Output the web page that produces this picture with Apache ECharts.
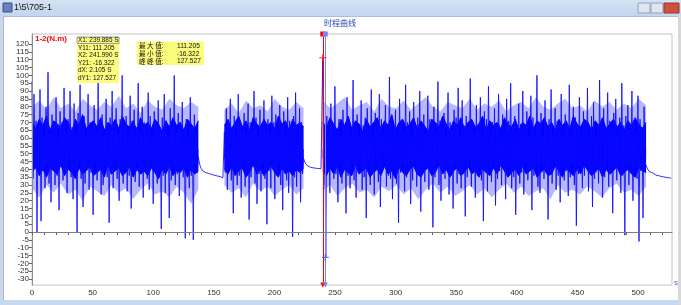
<!DOCTYPE html>
<html><head><meta charset="utf-8">
<script src="https://cdn.jsdelivr.net/npm/echarts@6/dist/echarts.min.js"></script>
<style>html,body{margin:0;padding:0;background:#fff}#c{width:681px;height:305px}</style>
</head><body><div id="c"></div>
<script>
const windowTitle = '1\\5\\705-1';
const chartTitle = '时程曲线';
const unitLabel = '1-2(N.m)';
const xUnit = 's';
const yTicks = [-30,-25,-20,-15,-10,-5,0,5,10,15,20,25,30,35,40,45,50,55,60,65,70,75,80,85,90,95,100,105,110,115,120];
const xLabels = [0,50,100,150,200,250,300,350,400,450,500];
const xTicks = [0,10,20,30,40,50,60,70,80,90,100,110,120,130,140,150,160,170,180,190,200,210,220,230,240,250,260,270,280,290,300,310,320,330,340,350,360,370,380,390,400,410,420,430,440,450,460,470,480,490,500,510,520];

// segment time bounds (s): noisy / decay / noisy / decay / noisy / decay
const segStart = [0, 137.2, 158.7, 224, 239.885, 506.6];
const segEnd   = [137.2, 158.7, 224, 239.885, 506.6, 527.3];

const seg1 = [96,34,88,40,71,0,64,37,91,7,73,39,62,28,80,43,102,31,63,19,
75,41,68,30,86,36,60,14,77,42,70,33,92,38,65,25,72,45,90,35,
67,21,82,40,63,0,76,44,94,34,69,16,74,31,61,41,88,27,70,38,
66,11,81,44,64,33,98,39,71,24,75,30,62,42,85,35,69,6,73,37,
90,28,65,43,79,34,62,20,72,39,100,31,68,42,74,26,63,36,87,15,
71,40,78,32,67,44,95,29,64,37,80,22,70,41,66,34,89,27,74,43,
62,18,77,38,69,31,84,39,66,2,73,36,88,25,71,40,61,9,79,33,
67,42,100,30,64,37,76,23,70,39,83,35,65,-4,72,41,60,28,86,36,68,-5,75,44,63,38];
const decay1 = [48,43,40.5,39,38.5,38,37.2,37.5,36.6,36.8,36,36.3,35.6,35.8,35.2,35.4,34.8,34.6];
const seg2 = [64,38,79,27,70,41,85,33,66,12,74,40,62,30,88,36,71,22,67,43,
76,29,63,39,82,8,70,35,65,42,90,31,73,18,61,37,78,26,69,44,
84,34,66,5,72,39,63,28,87,41,70,21,75,36,64,43,81,30,68,14,
77,38,62,33,86,25,71,40,66,-3,74,35,89,29,63,42,79,19,70,37];
const decay2 = [47,44,42.5,42,41.3,41.6,40.9,41.1,40.6,40.8,40.4];
const seg3 = [111.205,30,68,-16.322,74,39,63,25,82,41,69,34,93,37,65,19,72,43,61,31,
78,40,67,12,86,36,71,28,64,44,97,33,70,22,75,38,62,41,84,27,
68,35,73,9,79,42,65,30,91,37,60,24,76,43,69,32,88,16,72,39,
63,45,81,29,67,36,99,34,74,21,66,40,78,31,62,6,85,38,71,43,
64,26,94,35,70,41,77,18,61,33,83,44,68,29,73,37,90,13,66,40,
75,32,63,42,87,27,72,38,69,3,80,35,64,45,96,30,71,20,67,39,
76,34,62,41,89,24,70,36,65,15,78,43,73,31,92,37,61,28,84,40,
68,10,74,35,66,44,98,29,71,39,63,22,81,36,69,42,86,33,64,7,
77,38,72,26,93,41,65,32,70,45,79,17,67,34,88,39,62,30,75,43,
64,21,85,37,71,40,95,28,68,35,74,11,63,42,82,31,69,38,90,24,
66,44,77,33,61,39,87,14,73,36,65,41,100,29,70,25,76,43,62,34,
84,38,68,8,72,40,91,31,64,45,79,27,71,36,66,19,88,42,63,33,
75,39,69,23,94,35,62,44,80,30,73,4,67,37,86,41,64,28,77,36,
70,43,92,26,65,38,74,16,83,34,61,42,68,31,97,39,72,22,79,35,
63,44,89,29,71,37,66,12,76,40,85,33,62,41,73,25,95,36,68,-2,
74,43,81,30,65,38,90,20,70,42,63,34,87,-6,72,39,67,9,80,44];
const decay3 = [44,40,38.5,37.5,37.8,36.9,36.3,36.6,35.8,35.9,35.3,35.6,34.9,35.1,34.6,34.3];

// dense core band envelope of the three noisy segments (upper / lower)
const coreHi1 = [70,66,72,68,74,65,71,69,67,73,70,64,72,68,75,66,69,71,67,73,65,70,68,72,66,74,69,67,71,65,73,68,70,66,72,69,64,71,67,73,68,70,65,72,69,66,71];
const coreLo1 = [38,42,36,40,35,41,39,37,43,36,40,38,34,41,37,39,42,36,38,40,35,43,37,39,41,36,38,42,35,40,37,39,36,41,38,34,40,37,42,36,39,38,41,35,40,37,39];
const coreHi2 = [68,72,66,70,74,67,71,65,73,69,67,72,68,70,66,74,69,71,65,72,68,70,67];
const coreLo2 = [40,37,42,36,39,41,35,38,43,37,40,36,39,42,38,35,41,37,39,36,40,38,41];
const coreHi3 = [70,67,73,69,65,72,68,74,66,71,69,64,72,67,70,73,66,71,68,75,65,70,72,67,69,73,66,71,68,64,72,70,67,74,69,65,71,68,73,66,70,72,67,69,74,65,71,68,70,66,73,69,67,72,65,70,68,74,66,71,69,73,67,70,65,72,68,71,66,74,69,67,72,70,65,71,68,73,66,69,72,67,70,65,71,68,73,69,66,70];
const coreLo3 = [39,36,41,37,42,35,40,38,36,43,37,39,41,35,38,40,36,42,37,39,34,41,38,36,40,42,37,35,39,41,36,38,43,37,40,35,39,41,36,38,42,37,39,35,40,38,36,41,37,43,39,35,38,40,36,42,37,39,41,35,38,40,36,37,42,39,35,41,38,36,40,37,43,39,36,38,41,35,40,37,39,42,36,38,40,37,35,41,39,38];
// lighter fringe of dense strands around the core (upper / lower)
const outerHi1 = [80,84,78,86,79,82,77,85,81,78,83,80,87,79,82,76,84,80,78,85,81,79,83,80];
const outerLo1 = [28,22,30,25,31,24,27,20,29,26,23,30,25,28,21,27,31,24,26,22,29,25,18,27];
const outerHi2 = [78,82,76,84,79,81,77,85,80,78,83,79];
const outerLo2 = [30,25,28,22,31,26,29,23,27,30,24,28];
const outerHi3 = [84,79,82,86,78,81,83,77,85,80,79,84,78,82,86,80,77,83,81,79,85,78,82,80,84,77,81,83,79,86,80,78,82,85,79,81,77,84,80,83,78,82,79,85,81];
const outerLo3 = [26,30,23,28,31,25,27,22,29,26,30,24,28,21,27,31,25,29,23,26,30,24,28,22,27,31,25,29,23,26,28,21,30,25,27,24,29,26,22,28,31,25,27,23,29];
const bandSeg = [0, 2, 4]; // which noisy segment each band belongs to

const cursorX = [239.885, 241.990];
const cursorY = [111.205, -16.322];
const readout = ['X1: 239.885 S','Y11: 111.205','X2: 241.990 S','Y21: -16.322','dX: 2.105 S','dY1: 127.527'];
const statNames = ['最 大 值:','最 小 值:','峰 峰 值:'];
const statValues = ['111.205','-16.322','127.527'];

const segs = [seg1, decay1, seg2, decay2, seg3, decay3];
const pts = [];
segs.forEach((v, k) => {
  const n = v.length;
  const last = k === segs.length - 1;
  v.forEach((y, i) => {
    const f = last ? i / (n - 1) : i / n;
    pts.push([segStart[k] + (segEnd[k] - segStart[k]) * f, y]);
  });
});
function envelope(v, k) {
  const a = segStart[k], b = segEnd[k], n = v.length;
  return v.map((y, i) => [a + (b - a) * i / (n - 1), y]);
}

const chart = echarts.init(document.getElementById('c'), null, {renderer: 'canvas'});
const F = 'Liberation Sans, Arial, sans-serif';
const CJK = 'Noto Sans CJK SC, sans-serif';

const graphics = [
  {type:'rect', shape:{x:0,y:0,width:681,height:16}, style:{fill:new echarts.graphic.LinearGradient(0,0,0,1,[{offset:0,color:'#d4e2f3'},{offset:1,color:'#c3d6ee'}])}, z:0},
  {type:'rect', shape:{x:0,y:16,width:681,height:1}, style:{fill:'#a9bfd9'}},
  {type:'rect', shape:{x:0,y:16,width:3,height:289}, style:{fill:'#c6d9f0'}},
  {type:'rect', shape:{x:3,y:16,width:1,height:285}, style:{fill:'#b5b5b5'}},
  {type:'rect', shape:{x:0,y:300,width:681,height:5}, style:{fill:'#c6d9f0'}},
  {type:'rect', shape:{x:678,y:16,width:3,height:289}, style:{fill:'#d8d8d8'}},
  {type:'rect', shape:{x:3,y:3,width:9,height:9}, style:{fill:'#6b7fb8', stroke:'#3b4f8a', lineWidth:1}},
  {type:'text', style:{x:14,y:8,text:windowTitle, font:'9px '+F, fill:'#111', verticalAlign:'middle'}},
  {type:'rect', shape:{x:638,y:3,width:12,height:10}, style:{fill:'#dde6f1', stroke:'#8fa2bd'}},
  {type:'rect', shape:{x:651,y:3,width:12,height:10}, style:{fill:'#dde6f1', stroke:'#8fa2bd'}},
  {type:'rect', shape:{x:664,y:3,width:15,height:10}, style:{fill:'#d0503f', stroke:'#9c3426'}},
  {type:'text', style:{x:340,y:23,text:chartTitle, font:'8px '+CJK, fill:'#1f3fbf', align:'center', verticalAlign:'middle'}},
  {type:'text', style:{x:35,y:39,text:unitLabel, font:'bold 8px '+F, fill:'#ff0000', verticalAlign:'middle'}, z:10},
  {type:'text', style:{x:674,y:283,text:xUnit, font:'8px '+F, fill:'#4a5ee0', verticalAlign:'middle'}, z:10},
  {type:'rect', shape:{x:77,y:37,width:42,height:46}, style:{fill:'#fbfb7e'}, z:10},
  {type:'rect', shape:{x:77,y:37,width:42,height:6.5}, style:{fill:'none', stroke:'#9a9a9a', lineWidth:1}, z:11},
  {type:'rect', shape:{x:137,y:41.5,width:67,height:23.5}, style:{fill:'#fbfb7e'}, z:10}
];
readout.forEach((t, i) => {
  graphics.push({type:'text', style:{x:78, y:40.3 + i*7.6, text:t, font:'6.4px '+F, fill:'#111', verticalAlign:'middle'}, z:12});
});
statNames.forEach((t, i) => {
  graphics.push({type:'text', style:{x:139, y:45.8 + i*7.9, text:t, font:'6.6px '+CJK, fill:'#111', verticalAlign:'middle'}, z:12});
  graphics.push({type:'text', style:{x:177, y:45.8 + i*7.9, text:statValues[i], font:'6.6px '+F, fill:'#111', verticalAlign:'middle'}, z:12});
});

const series = [];
function band(arrs, z, op, lw, origin) {
  arrs.forEach((v, j) => {
    series.push({type:'line', data:envelope(v, bandSeg[j]), symbol:'none', silent:true, z:z,
      lineStyle:{width:lw, color:'#0000ff', opacity:op},
      areaStyle:{color:'#0000ff', opacity:op, origin:origin}});
  });
}
band([outerHi1, outerHi2, outerHi3], 1, 0.28, 0, 47);
band([outerLo1, outerLo2, outerLo3], 1, 0.28, 0, 53);
band([coreHi1, coreHi2, coreHi3], 1.5, 1, 1, 47);
band([coreLo1, coreLo2, coreLo3], 1.5, 1, 1, 53);

series.push({
  type:'line', data:pts, symbol:'none', sampling:false, z:2,
  lineStyle:{color:'#0a0aff', width:1, opacity:0.85},
  markLine:{
    silent:true, animation:false,
    symbol:['triangle','rect'], symbolSize:[5,5],
    label:{show:false},
    data:[
      {xAxis:cursorX[0], lineStyle:{color:'#ff0000', width:1, type:'solid', opacity:1}, itemStyle:{color:'#ff0000'}},
      {xAxis:cursorX[1], lineStyle:{color:'#8080ff', width:1, type:'solid', opacity:1}, itemStyle:{color:'#3050ff'}}
    ]
  }
});
series.push({
  type:'scatter', z:5,
  symbol:'path://M0,3h8v1.5h-8z M3.2,0h1.5v8h-1.5z', symbolSize:[7,7],
  data:[
    {value:[cursorX[0], cursorY[0]], itemStyle:{color:'#ff2020'}},
    {value:[cursorX[1], cursorY[1]], itemStyle:{color:'#4060ff'}}
  ]
});

chart.setOption({
  animation: false,
  backgroundColor: '#ffffff',
  grid: {left:32, right:9, top:34, bottom:20, show:true, borderColor:'#c4c4c4', borderWidth:1, backgroundColor:'#fff'},
  xAxis: {
    type:'value', min:0, max:528, z:10,
    axisLine:{show:true, lineStyle:{color:'#808080', width:1}},
    axisTick:{show:true, customValues:xTicks, length:3, lineStyle:{color:'#666'}},
    axisLabel:{customValues:xLabels, fontSize:8, color:'#333', fontFamily:F, margin:4},
    splitLine:{show:false}
  },
  yAxis: {
    type:'value', min:-33.8, max:126.4, z:10,
    axisLine:{show:true, lineStyle:{color:'#8c8c8c', width:1}},
    axisTick:{show:true, customValues:yTicks, length:3, lineStyle:{color:'#666'}},
    axisLabel:{customValues:yTicks, fontSize:8, color:'#333', fontFamily:F, margin:3},
    splitLine:{show:false}
  },
  graphic: graphics,
  series: series
});
</script></body></html>
